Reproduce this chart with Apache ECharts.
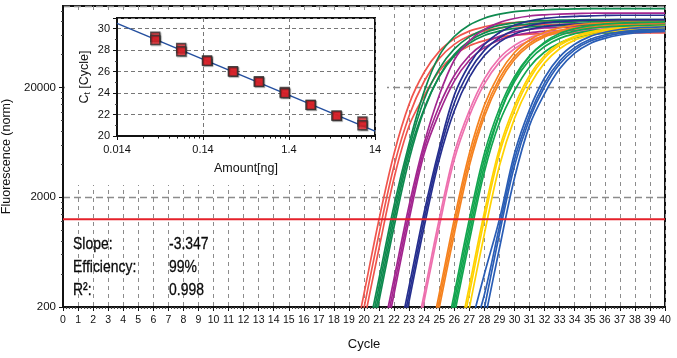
<!DOCTYPE html>
<html><head><meta charset="utf-8">
<script src="https://cdn.jsdelivr.net/npm/echarts@6/dist/echarts.min.js"></script>
<style>html,body{margin:0;padding:0;background:#fff}#c{width:677px;height:358px}</style>
</head><body><div id="c"></div>
<script>
// ---------------- data ----------------
const FONT = "'Liberation Sans Narrow','Liberation Sans',Arial,sans-serif";
const baseFluor = 200;            // bottom of the log axis
const topFluor = 111000;          // top of the log axis
const yTickLabels = ['200', '2000', '20000'];
const thresholdFluor = 1262;
const cycleMin = 0, cycleMax = 40;

// amplification curves: fluorescence at integer cycles, starting at the given cycle
const redStart = 19;
const redCurves = [
  [56, 264, 1262, 5024, 14160, 27600, 42760, 55720, 65460, 71780, 76040, 78340, 79610, 80540, 81000, 81300, 81470, 81470, 81470, 81470, 81470, 81470],
  [41, 196, 931, 3882, 11090, 22860, 36900, 49660, 59430, 65770, 70150, 72620, 74140, 74900, 75600, 76000, 76000, 76000, 76000, 76000, 76000, 76000],
  [30, 146, 687, 3000, 8970, 16870, 28380, 39450, 48090, 53710, 57680, 60120, 61380, 62240, 62800, 63200, 63200, 63200, 63200, 63200, 63200, 63200]
];
const darkGreenStart = 20;
const darkGreenCurves = [
  [78, 364, 1694, 6210, 18500, 39180, 58480, 74480, 85910, 93550, 98630, 101160, 102650, 103800, 104400, 104900, 104900, 104900, 104900, 104900, 104900],
  [66, 310, 1462, 5586, 15600, 29650, 45090, 58080, 67610, 73870, 77980, 80350, 81380, 82420, 83000, 83370, 83370, 83370, 83370, 83370, 83370],
  [56, 264, 1262, 5024, 12910, 25170, 38990, 50810, 59700, 65460, 69340, 71450, 72610, 73450, 73900, 74300, 74300, 74300, 74300, 74300, 74300],
  [48, 228, 1084, 4416, 12560, 25410, 40180, 53210, 63100, 69510, 73880, 76390, 77720, 78670, 79200, 79620, 79620, 79620, 79620, 79620, 79620]
];
const purpleStart = 21;
const purpleCurves = [
  [78, 364, 1694, 6210, 17020, 35730, 53340, 67920, 78350, 85320, 89950, 92250, 93610, 94700, 95300, 95720, 95720, 95720, 95720, 95720],
  [66, 310, 1462, 5586, 13590, 25820, 39270, 50590, 58900, 64350, 67930, 69990, 70890, 71790, 72300, 72620, 72620, 72620, 72620, 72620],
  [56, 264, 1262, 5024, 11780, 22960, 35560, 46340, 54450, 59700, 63240, 65160, 66220, 66990, 67400, 67760, 67760, 67760, 67760, 67760]
];
const navyStart = 22;
const navyCurves = [
  [66, 310, 1462, 5586, 17100, 32510, 49440, 63680, 74140, 81010, 85510, 88110, 89240, 90380, 91000, 91420, 91420, 91420, 91420],
  [56, 264, 1262, 5024, 14490, 28250, 43750, 57020, 66990, 73450, 77810, 80170, 81470, 82420, 83000, 83370, 83370, 83370, 83370],
  [48, 228, 1084, 4416, 12330, 24840, 39260, 52000, 61670, 67930, 72200, 74650, 75950, 76880, 77400, 77810, 77810, 77810, 77810]
];
const pinkStart = 23;
const pinkCurves = [
  [56, 264, 1262, 5024, 12330, 24040, 37240, 48530, 57020, 62520, 66230, 68240, 69340, 70150, 70600, 70960, 70960, 70960],
  [48, 228, 1084, 4416, 11040, 21630, 34190, 45280, 53700, 59150, 62870, 65010, 66140, 66950, 67400, 67760, 67760, 67760]
];
const orangeStart = 24;
const orangeCurves = [
  [56, 264, 1262, 5024, 13840, 26980, 41780, 54450, 63970, 70150, 74310, 76560, 77800, 78710, 79200, 79620, 79620],
  [48, 228, 1084, 4416, 12110, 24270, 38370, 50820, 60260, 66380, 70560, 72950, 74220, 75130, 75600, 76040, 76040],
  [41, 196, 931, 3882, 10940, 22330, 36060, 48530, 58070, 64270, 68550, 70960, 72440, 73190, 73800, 74300, 74300]
];
const greenStart = 25;
const greenCurves = [
  [56, 264, 1262, 5024, 12910, 25170, 38990, 50810, 59700, 65460, 69340, 71450, 72610, 73450, 73900, 74300],
  [48, 228, 1084, 4416, 11460, 22650, 35810, 47420, 56240, 61950, 65840, 68080, 69260, 70110, 70600, 70960],
  [41, 196, 931, 3882, 11400, 23930, 38640, 52000, 62230, 68870, 73460, 76040, 77630, 78430, 79000, 79400],
  [35, 169, 800, 3412, 9620, 18750, 30900, 42270, 51050, 56750, 60740, 63090, 64410, 65290, 65800, 66100]
];
const yellowStart = 26;
const yellowCurves = [
  [66, 310, 1462, 5586, 13590, 25820, 39270, 50590, 58900, 64350, 67930, 69990, 70890, 71790, 72300],
  [56, 264, 1262, 5024, 12330, 24040, 37240, 48530, 57020, 62520, 66230, 68240, 69340, 70150, 70600],
  [41, 196, 931, 3882, 10500, 20840, 33650, 45290, 54200, 59980, 63970, 66220, 67610, 68300, 68800]
];
const blueStart = 27;
const blueCurves = [
  [120, 400, 1262, 5024, 12620, 24600, 38110, 49660, 58350, 63980, 67780, 69830, 70970, 71790],
  [90, 260, 1084, 4416, 11250, 22130, 34990, 46340, 54950, 60530, 64340, 66520, 67680, 68510],
  [41, 196, 931, 3882, 10350, 20370, 32880, 44250, 52960, 58610, 62520, 64710, 66070, 66740],
  [30, 146, 687, 3000, 9060, 17660, 29710, 41300, 50350, 56230, 60390, 62950, 64270, 65160]
];
const groupColors = ['#f0554d', '#0f8a4f', '#a3268f', '#262f8f', '#ee70ae', '#f5821f', '#13a650', '#ffd200', '#2a5db5'];

// standard curve (inset)
const amountMin = 0.014, amountMax = 14;
const amountTickLabels = ['0.014', '0.14', '1.4', '14'];
const amounts = [0.039, 0.078, 0.156, 0.3125, 0.625, 1.25, 2.5, 5, 10];
const ctRep1 = [29.25, 28.2, 27.05, 26.05, 25.1, 24.1, 22.9, 21.9, 21.35];
const ctRep2 = [28.95, 27.9, 27.0, 26.0, 25.05, 24.0, 22.9, 21.9, 21.0];
const fitAmounts = [0.014, 14];
const fitCt = [30.5, 20.45];
const ctMin = 20, ctMax = 31;

const statLabels = ['Slope:', 'Efficiency:', 'R\u00b2:'];
const statValues = ['-3.347', '99%', '0.998'];

// ---------------- chart ----------------
const toY = f => Math.log10(f / baseFluor);
const toA = a => Math.log10(a / amountMin);
const yMax = toY(topFluor);
const aMax = toA(amountMax);

const groups = [
  [redStart, redCurves], [darkGreenStart, darkGreenCurves], [purpleStart, purpleCurves],
  [navyStart, navyCurves], [pinkStart, pinkCurves], [orangeStart, orangeCurves],
  [greenStart, greenCurves], [yellowStart, yellowCurves], [blueStart, blueCurves]
];

const series = [];
groups.forEach(([start, curves], gi) => {
  curves.forEach(c => {
    series.push({
      type: 'line', xAxisIndex: 0, yAxisIndex: 0, silent: true,
      data: c.map((f, i) => [start + i, toY(f)]),
      smooth: 0.35, showSymbol: false, z: 3,
      lineStyle: { color: groupColors[gi], width: 1.7 }
    });
  });
});
series.push({
  type: 'line', xAxisIndex: 0, yAxisIndex: 0, silent: true, z: 3,
  data: [[cycleMin, toY(thresholdFluor)], [cycleMax, toY(thresholdFluor)]],
  showSymbol: false, lineStyle: { color: '#e5202a', width: 2 }
});
series.push({
  type: 'line', xAxisIndex: 1, yAxisIndex: 2, silent: true, z: 6,
  data: fitAmounts.map((a, i) => [toA(a), fitCt[i]]),
  showSymbol: false, lineStyle: { color: '#244f9f', width: 1.5 }
});
[ctRep1, ctRep2].forEach(rep => {
  series.push({
    type: 'scatter', xAxisIndex: 1, yAxisIndex: 2, silent: true, z: 7,
    data: amounts.map((a, i) => [toA(a), rep[i]]),
    symbol: 'rect', symbolSize: 9,
    itemStyle: { color: '#e3232a', borderColor: '#333', borderWidth: 1.4,
      shadowColor: 'rgba(0,0,0,0.35)', shadowBlur: 1, shadowOffsetX: 1, shadowOffsetY: 1 }
  });
});

const yMinor = [];
for (let d = 0; d < 3; d++) for (let k = 2; k <= 9; k++) { const v = Math.log10(k) + d; if (v < yMax) yMinor.push(v); }
const aMinor = [];
for (let d = 0; d < 3; d++) for (let k = 2; k <= 9; k++) aMinor.push(Math.log10(k) + d);

const dark = '#111';
const gridDash = { color: '#8c8c8c', width: 1, type: [4, 4] };

const statText = (t, i, x) => ({
  type: 'text', z: 10, silent: true, x: x, y: 244 + i * 23, scaleX: 0.82,
  style: { x: 0, y: 0, text: t, fill: '#0a0a0a', font: '17px ' + FONT, verticalAlign: 'middle',
    stroke: '#0a0a0a', lineWidth: 0.3 }
});

const option = {
  animation: false,
  backgroundColor: '#fff',
  textStyle: { fontFamily: FONT },
  grid: [
    { left: 63, right: 12, top: 6, bottom: 51, show: true, borderColor: dark, borderWidth: 2, outerBoundsMode: 'none', z: 0 },
    { left: 117, right: 302, top: 18, bottom: 222, show: true, borderColor: dark, borderWidth: 2, backgroundColor: '#fff', outerBoundsMode: 'none', z: 4 }
  ],
  xAxis: [
    { type: 'value', gridIndex: 0, min: cycleMin, max: cycleMax, interval: 1, z: 0, position: 'bottom',
      name: 'Cycle', nameLocation: 'middle', nameGap: 31,
      nameTextStyle: { fontSize: 13, color: dark, fontFamily: FONT },
      axisLine: { show: true, lineStyle: { color: dark, width: 2 } },
      axisTick: { show: true, inside: false, length: 4, lineStyle: { color: dark } },
      minorTick: { show: true, splitNumber: 5, length: 2, lineStyle: { color: '#444' } },
      axisLabel: { fontSize: 10.5, color: dark, margin: 8, fontFamily: FONT },
      splitLine: { show: true, lineStyle: gridDash } },
    { type: 'value', gridIndex: 1, min: 0, max: aMax, interval: 1, z: 4, position: 'bottom',
      name: 'Amount[ng]', nameLocation: 'middle', nameGap: 26,
      nameTextStyle: { fontSize: 12.5, color: dark, fontFamily: FONT },
      axisLine: { show: true, lineStyle: { color: dark, width: 2 } },
      axisTick: { show: true, length: 4, lineStyle: { color: dark } },
      axisLabel: { fontSize: 11, color: dark, margin: 8, fontFamily: FONT,
        formatter: v => amountTickLabels[Math.round(v)] },
      splitLine: { show: true, lineStyle: { color: '#777', width: 1, type: [4, 3] } } },
    { type: 'value', gridIndex: 1, min: 0, max: aMax, z: 4, position: 'bottom',
      axisLine: { show: false }, axisLabel: { show: false }, splitLine: { show: false },
      axisTick: { show: true, length: 2.5, customValues: aMinor, lineStyle: { color: dark } } }
  ],
  yAxis: [
    { type: 'value', gridIndex: 0, min: 0, max: yMax, interval: 1, z: 0, position: 'left',
      name: 'Fluorescence (norm)', nameLocation: 'middle', nameGap: 42,
      nameTextStyle: { fontSize: 12.5, color: dark, fontFamily: FONT },
      axisLine: { show: true, lineStyle: { color: dark, width: 2 } },
      axisTick: { show: true, length: 4, lineStyle: { color: dark } },
      axisLabel: { fontSize: 11.5, color: dark, margin: 7, fontFamily: FONT, showMaxLabel: false,
        formatter: v => (Math.abs(v - Math.round(v)) < 1e-6 ? (yTickLabels[Math.round(v)] || '') : '') },
      splitLine: { show: true, lineStyle: { color: '#8c8c8c', width: 1.3, type: [7, 4] } } },
    { type: 'value', gridIndex: 0, min: 0, max: yMax, z: 0, position: 'left',
      axisLine: { show: false }, axisLabel: { show: false }, splitLine: { show: false },
      axisTick: { show: true, length: 2, customValues: yMinor, lineStyle: { color: '#444' } } },
    { type: 'value', gridIndex: 1, min: ctMin, max: ctMax, interval: 2, z: 4, position: 'left',
      name: '{a|C}{b|t}{a| [Cycle]}', nameLocation: 'middle', nameGap: 25,
      nameTextStyle: { color: dark, fontFamily: FONT,
        rich: { a: { fontSize: 12.5, fontFamily: FONT, color: dark }, b: { fontSize: 8.5, fontFamily: FONT, color: dark, verticalAlign: 'bottom', padding: [6, 0, 0, 0] } } },
      axisLine: { show: true, lineStyle: { color: dark, width: 2 } },
      axisTick: { show: true, length: 4, lineStyle: { color: dark } },
      minorTick: { show: true, splitNumber: 2, length: 2, lineStyle: { color: '#444' } },
      axisLabel: { fontSize: 11, color: dark, margin: 7, fontFamily: FONT, showMaxLabel: false },
      splitLine: { show: true, lineStyle: { color: '#777', width: 1, type: [4, 3] } } }
  ],
  graphic: [
    { type: 'rect', z: 2, silent: true, shape: { x: 65, y: 11, width: 322, height: 174 }, style: { fill: '#fff' } }
  ].concat(statLabels.map((t, i) => statText(t, i, 73)))
   .concat(statValues.map((t, i) => statText(t, i, 169))),
  series: series
};

const chart = echarts.init(document.getElementById('c'), null, { renderer: 'canvas' });
chart.setOption(option);
</script>
</body></html>
